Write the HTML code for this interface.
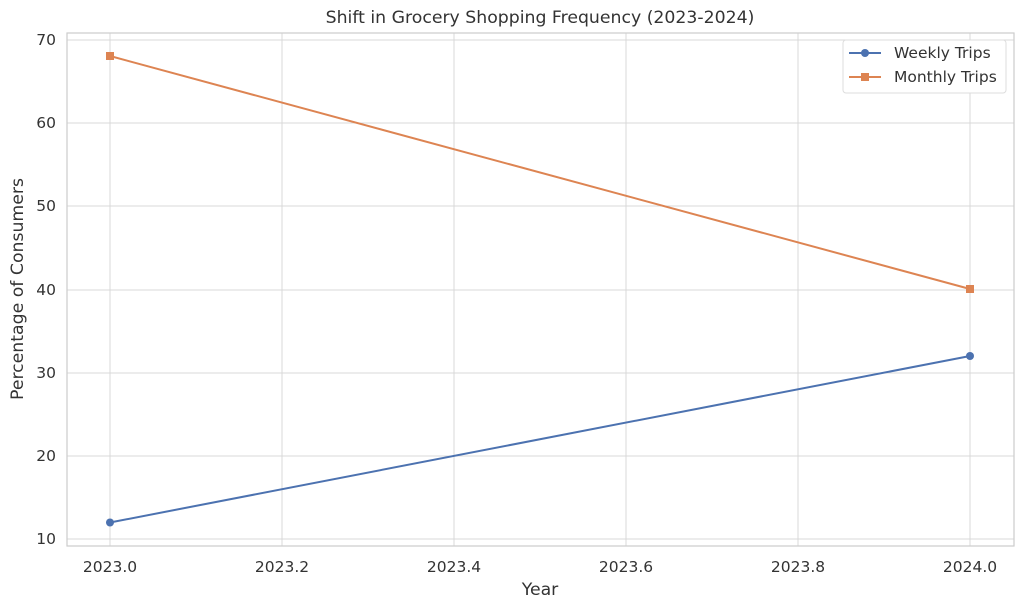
<!DOCTYPE html>
<html><head><style>body{margin:0;background:#fff}svg{display:block}</style></head><body>
<svg width="1024" height="608" xmlns="http://www.w3.org/2000/svg" font-family="DejaVu Sans, sans-serif" fill="#333">
<rect width="1024" height="608" fill="#fff"/>
<g stroke="#d9d9d9" stroke-width="1">
<line x1="110" y1="33" x2="110" y2="546"/><line x1="282" y1="33" x2="282" y2="546"/><line x1="454" y1="33" x2="454" y2="546"/><line x1="626" y1="33" x2="626" y2="546"/><line x1="798" y1="33" x2="798" y2="546"/><line x1="970" y1="33" x2="970" y2="546"/>
<line x1="67" y1="40" x2="1014" y2="40"/><line x1="67" y1="123" x2="1014" y2="123"/><line x1="67" y1="206" x2="1014" y2="206"/><line x1="67" y1="290" x2="1014" y2="290"/><line x1="67" y1="373" x2="1014" y2="373"/><line x1="67" y1="456" x2="1014" y2="456"/><line x1="67" y1="539" x2="1014" y2="539"/>
</g>
<rect x="67" y="33" width="947" height="513" fill="none" stroke="#ccc" stroke-width="1.2"/>
<g font-size="15.5" text-anchor="end">
<text x="56" y="45">70</text><text x="56" y="128">60</text><text x="56" y="211">50</text><text x="56" y="295">40</text><text x="56" y="378">30</text><text x="56" y="461">20</text><text x="56" y="544">10</text>
</g>
<g font-size="15.5" text-anchor="middle">
<text x="110" y="572">2023.0</text><text x="282" y="572">2023.2</text><text x="454" y="572">2023.4</text><text x="626" y="572">2023.6</text><text x="798" y="572">2023.8</text><text x="970" y="572">2024.0</text>
<text x="540" y="595" font-size="17.3">Year</text>
<text x="540" y="23" font-size="17.3">Shift in Grocery Shopping Frequency (2023-2024)</text>
</g>
<text transform="translate(23,289) rotate(-90)" font-size="17.3" text-anchor="middle">Percentage of Consumers</text>
<line x1="110" y1="522.5" x2="970" y2="356" stroke="#4c72b0" stroke-width="2"/>
<circle cx="110" cy="522.5" r="4" fill="#4c72b0"/><circle cx="970" cy="356" r="4" fill="#4c72b0"/>
<line x1="110" y1="56" x2="970" y2="289" stroke="#dd8452" stroke-width="2"/>
<rect x="106" y="52" width="8" height="8" fill="#dd8452"/><rect x="966" y="285" width="8" height="8" fill="#dd8452"/>
<rect x="843" y="40" width="163" height="53" rx="3" fill="#fff" stroke="#ddd"/>
<line x1="849" y1="53" x2="881" y2="53" stroke="#4c72b0" stroke-width="2"/><circle cx="865" cy="53" r="4" fill="#4c72b0"/>
<line x1="849" y1="77" x2="881" y2="77" stroke="#dd8452" stroke-width="2"/><rect x="861" y="73" width="8" height="8" fill="#dd8452"/>
<text x="894" y="58" font-size="15.5">Weekly Trips</text>
<text x="894" y="82" font-size="15.5">Monthly Trips</text>
</svg>
</body></html>
